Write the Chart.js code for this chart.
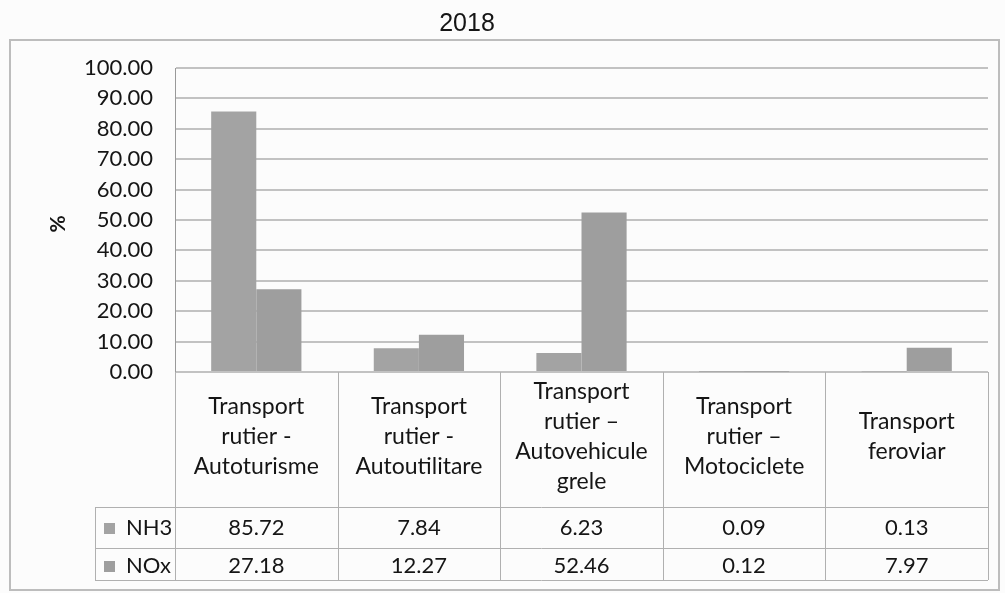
<!DOCTYPE html>
<html><head><meta charset="utf-8">
<script src="https://cdn.jsdelivr.net/npm/chart.js@4.4.1/dist/chart.umd.min.js"></script>
<style>html,body{margin:0;padding:0;background:#fcfcfc;}canvas{display:block}</style>
</head><body>
<canvas id="c" width="1005" height="593"></canvas>
<script>
const chartTitle = '2018';
const yAxisTitle = '%';
const categories = [
  ['Transport', 'rutier -', 'Autoturisme'],
  ['Transport', 'rutier -', 'Autoutilitare'],
  ['Transport', 'rutier \u2013', 'Autovehicule', 'grele'],
  ['Transport', 'rutier \u2013', 'Motociclete'],
  ['Transport', 'feroviar']
];
const seriesNames = ['NH3', 'NOx'];
const nh3Values = [85.72, 7.84, 6.23, 0.09, 0.13];
const noxValues = [27.18, 12.27, 52.46, 0.12, 7.97];
const yMin = 0, yMax = 100, yStep = 10;
const seriesColors = ['#a3a3a3', '#9e9e9e'];

const FONT = 'Lato, "Open Sans", sans-serif';
const TEXT = '#151515';
const LINE = '#b0b0b0';

const extras = {
  id: 'extras',
  beforeDraw(chart) {
    const ctx = chart.ctx;
    ctx.save();
    ctx.fillStyle = '#fcfcfc';
    ctx.fillRect(0, 0, chart.width, chart.height);
    ctx.restore();
  },
  afterDraw(chart) {
    const ctx = chart.ctx;
    const xs = chart.scales.x;
    const ca = chart.chartArea;
    const n = categories.length;
    const colW = (ca.right - ca.left) / n;
    const tableTop = ca.bottom;
    const row1 = 507, row2 = 548, tableBottom = 580, legendLeft = 95;
    ctx.save();
    // outer frame
    ctx.strokeStyle = '#bdbdbd';
    ctx.lineWidth = 2;
    ctx.strokeRect(10, 40, 989, 550);
    // title
    ctx.fillStyle = TEXT;
    ctx.font = '25px "Liberation Sans", Arial, sans-serif';
    ctx.textAlign = 'center';
    ctx.textBaseline = 'middle';
    ctx.fillText(chartTitle, 467, 24);
    // y title
    ctx.save();
    ctx.translate(58, 224);
    ctx.rotate(-Math.PI / 2);
    ctx.font = 'bold 21px ' + FONT;
    ctx.fillText(yAxisTitle, 0, 0);
    ctx.restore();
    // table lines
    ctx.strokeStyle = LINE;
    ctx.lineWidth = 1;
    ctx.beginPath();
    for (let i = 0; i <= n; i++) {
      const x = Math.round(ca.left + i * colW) + 0.5;
      ctx.moveTo(x, tableTop);
      ctx.lineTo(x, tableBottom);
    }
    [row1, row2, tableBottom].forEach(y => {
      ctx.moveTo(legendLeft, y + 0.5);
      ctx.lineTo(ca.right, y + 0.5);
    });
    ctx.moveTo(legendLeft + 0.5, row1);
    ctx.lineTo(legendLeft + 0.5, tableBottom);
    ctx.stroke();
    // category labels
    ctx.font = '23px ' + FONT;
    ctx.fillStyle = TEXT;
    ctx.textAlign = 'center';
    ctx.textBaseline = 'middle';
    categories.forEach((lines, i) => {
      const cx = xs.getPixelForValue(i);
      const sp = 30;
      const start = 437 - (lines.length - 1) * sp / 2;
      lines.forEach((t, k) => ctx.fillText(t, cx, start + k * sp));
    });
    // data rows
    ctx.font = '22px ' + FONT;
    const rows = [nh3Values, noxValues];
    const rowY = [528, 566];
    rows.forEach((vals, r) => {
      ctx.fillStyle = seriesColors[r];
      ctx.fillRect(104, rowY[r] - 5, 11, 11);
      ctx.fillStyle = TEXT;
      ctx.textAlign = 'left';
      ctx.fillText(seriesNames[r], 126, rowY[r]);
      ctx.textAlign = 'center';
      vals.forEach((v, i) => {
        ctx.fillText(v.toFixed(2), xs.getPixelForValue(i), rowY[r]);
      });
    });
    ctx.restore();
  }
};

new Chart(document.getElementById('c'), {
  type: 'bar',
  data: {
    labels: categories.map(l => l.join(' ')),
    datasets: [
      { label: seriesNames[0], data: nh3Values, backgroundColor: seriesColors[0] },
      { label: seriesNames[1], data: noxValues, backgroundColor: seriesColors[1] }
    ]
  },
  options: {
    responsive: false,
    animation: false,
    devicePixelRatio: 1,
    categoryPercentage: 0.555,
    barPercentage: 1,
    layout: { padding: { top: 68, right: 17, bottom: 221, left: 10 } },
    plugins: { legend: { display: false }, title: { display: false }, tooltip: { enabled: false } },
    scales: {
      x: { display: false },
      y: {
        min: yMin, max: yMax,
        afterFit(s) { s.width = 165; },
        ticks: {
          stepSize: yStep,
          padding: 22,
          color: TEXT,
          font: { family: FONT, size: 22 },
          callback: v => Number(v).toFixed(2)
        },
        grid: { color: '#c2c2c2', lineWidth: 2, drawTicks: false },
        border: { display: true, color: '#999999', width: 1 }
      }
    }
  },
  plugins: [extras]
});
</script>
</body></html>
